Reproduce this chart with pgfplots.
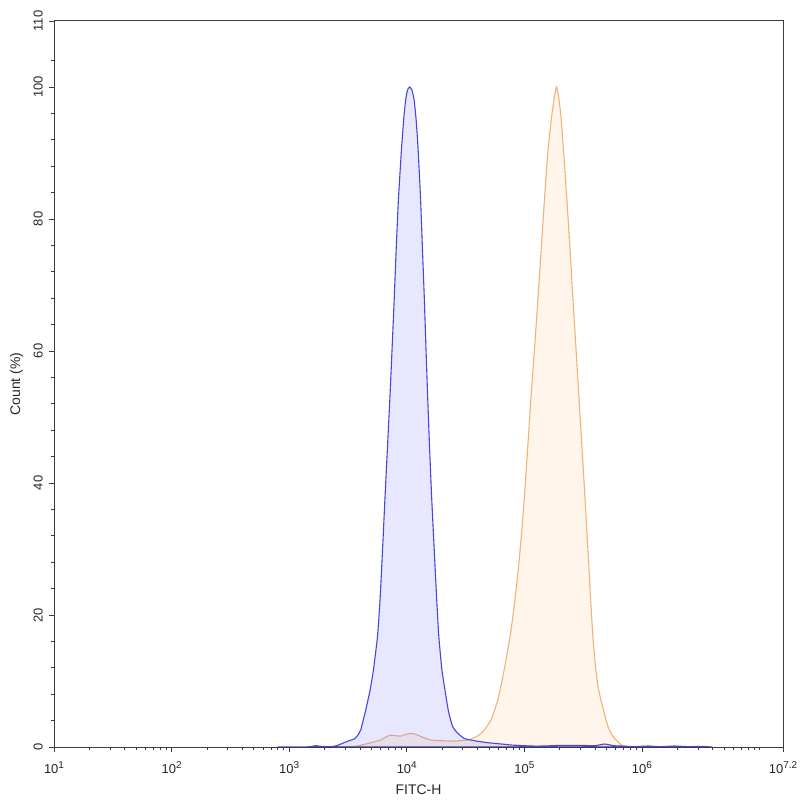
\documentclass[border=0pt]{standalone}
\usepackage{fontspec}
\setmainfont{Liberation Sans}
\usepackage{graphicx}
\usepackage{pgfplots}
\pgfplotsset{compat=1.18}
\definecolor{bline}{RGB}{70,70,220}
\definecolor{bfill}{RGB}{70,70,255}
\definecolor{oline}{RGB}{240,178,118}
\definecolor{ofill}{RGB}{255,215,170}
\definecolor{axgray}{RGB}{60,60,60}
\newcommand\sups[1]{\raisebox{5.5bp}{\fontsize{10}{10}\selectfont #1}}
\begin{document}
\begin{tikzpicture}
\begin{axis}[
  scale only axis, width=729bp, height=726bp,
  xmin=1, xmax=7.2, ymin=0, ymax=110,
  axis line style={axgray, line width=1bp},
  tick style={axgray, line width=0.8bp},
  tick align=outside,
  major tick length=5bp, minor tick length=3bp,
  xtick pos=bottom, ytick pos=left,
  xtick={1,2,3,4,5,6,7.2},
  xticklabels={10\sups{1},10\sups{2},10\sups{3},10\sups{4},10\sups{5},10\sups{6},10\sups{7.2}},
  minor xtick={1.30103,1.47712,1.60206,1.69897,1.77815,1.84510,1.90309,1.95424,
               2.30103,2.47712,2.60206,2.69897,2.77815,2.84510,2.90309,2.95424,
               3.30103,3.47712,3.60206,3.69897,3.77815,3.84510,3.90309,3.95424,
               4.30103,4.47712,4.60206,4.69897,4.77815,4.84510,4.90309,4.95424,
               5.30103,5.47712,5.60206,5.69897,5.77815,5.84510,5.90309,5.95424,
               6.30103,6.47712,6.60206,6.69897,6.77815,6.84510,6.90309,6.95424,7},
  ytick={0,20,40,60,80,100,110},
  yticklabels={\rotatebox{90}{0},\rotatebox{90}{20},\rotatebox{90}{40},\rotatebox{90}{60},\rotatebox{90}{80},\rotatebox{90}{100},\rotatebox{90}{110}},
  minor ytick={4,8,12,16,24,28,32,36,44,48,52,56,64,68,72,76,84,88,92,96,104},
  ticklabel style={font=\fontsize{13}{15}\selectfont, text=black!85},
  xticklabel style={anchor=north, inner sep=0pt, yshift=-9bp},
  yticklabel style={anchor=east, inner sep=0pt, xshift=-6bp},
  xlabel={FITC-H},
  ylabel={Count (\%)},
  label style={font=\fontsize{14}{16}\selectfont, text=black!85},
  xlabel style={at={(axis description cs:0.5,0)}, anchor=base, yshift=-47bp},
  ylabel style={at={(axis description cs:-0.0466,0.5)}, anchor=base},
  clip=true,
]
\addplot[draw=oline, line width=1.1bp, fill=ofill, fill opacity=0.25, smooth, tension=0.3] coordinates {
(3.2,0) (3.45,0.05) (3.581,0.15) (3.694,0.65) (3.779,1.06) (3.82,1.5) (3.864,1.8) (3.91,1.7) (3.950,1.65) (3.99,1.9) (4.035,2.07) (4.08,1.9) (4.120,1.6) (4.16,1.3) (4.205,1.06) (4.291,0.95) (4.404,0.9) (4.518,1.06) (4.575,1.41) (4.62,1.9) (4.660,2.6) (4.717,4.1) (4.774,7.1) (4.817,10.6) (4.859,14.7) (4.885,17.5) (4.910,20.8) (4.935,24.6) (4.960,29.0) (4.985,34.2) (5.010,40.3) (5.033,46.5) (5.056,52.8) (5.086,60.2) (5.115,67.7) (5.143,75.3) (5.171,82.9) (5.202,90.5) (5.232,95.5) (5.257,98.6) (5.274,100) (5.291,98.6) (5.312,95.5) (5.333,90.5) (5.362,82.9) (5.389,75.3) (5.414,67.7) (5.440,60.2) (5.466,52.6) (5.492,45) (5.517,37.4) (5.541,29.8) (5.564,22.3) (5.584,16.5) (5.605,12.2) (5.627,9.1) (5.648,7.4) (5.669,5.9) (5.690,4.4) (5.712,3.1) (5.740,2.0) (5.768,1.3) (5.825,0.3) (5.882,0.05) (5.95,0)
} \closedcycle;
\addplot[draw=bline, line width=1.1bp, fill=bfill, fill opacity=0.13, smooth, tension=0.3] coordinates {
(2.9,0) (3.10,0) (3.18,0.05) (3.225,0.2) (3.27,0.1) (3.33,0.05) (3.38,0.1) (3.42,0.3) (3.466,0.65) (3.51,0.95) (3.552,1.2) (3.58,1.7) (3.609,2.6) (3.651,5.6) (3.688,8.6) (3.717,11.7) (3.751,16.7) (3.773,22.3) (3.794,29.8) (3.814,37.4) (3.835,45) (3.856,52.6) (3.875,60.2) (3.893,67.7) (3.910,75.3) (3.929,82.9) (3.955,90.5) (3.975,95.3) (3.992,98.2) (4.008,99.6) (4.026,100) (4.045,99.5) (4.063,98) (4.080,95) (4.097,90.5) (4.118,82.9) (4.134,75.3) (4.150,67.7) (4.164,60.2) (4.179,52.6) (4.195,45) (4.213,37.4) (4.234,29.8) (4.255,22.3) (4.273,16.7) (4.299,11.7) (4.330,8.1) (4.355,5.4) (4.390,3.1) (4.433,2.1) (4.489,1.3) (4.575,0.95) (4.689,0.65) (4.830,0.41) (4.888,0.3) (5.058,0.15) (5.169,0.15) (5.30,0.25) (5.456,0.25) (5.60,0.2) (5.683,0.45) (5.76,0.2) (5.825,0.15) (5.936,0.05) (6.053,0.15) (6.15,0.05) (6.277,0.15) (6.4,0.05) (6.5,0.1) (6.6,0)
} \closedcycle;
\end{axis}
\pgfresetboundingbox
\path[use as bounding box] ([xshift=-54bp,yshift=-53bp]current axis.south west) rectangle ++(800bp,800bp);
\end{tikzpicture}
\end{document}
